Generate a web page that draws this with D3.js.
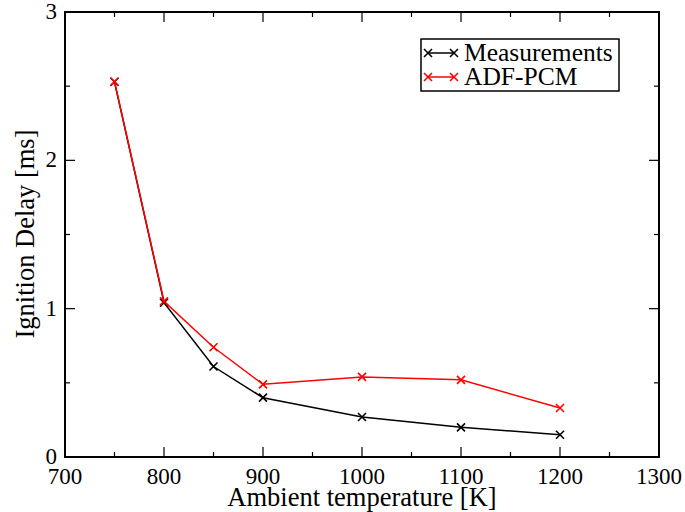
<!DOCTYPE html>
<html><head><meta charset="utf-8">
<script src="https://cdn.jsdelivr.net/npm/d3@7"></script>
<style>body{margin:0;background:#fff}svg{display:block}text{font-family:"Liberation Serif","Times New Roman",serif}</style>
</head><body>
<svg id="c" width="685" height="512"></svg>
<script>
const temps = [750, 800, 850, 900, 1000, 1100, 1200];
const measurements = [2.53, 1.04, 0.61, 0.40, 0.27, 0.20, 0.15];
const adfPcm = [2.53, 1.05, 0.74, 0.49, 0.54, 0.52, 0.33];
const xTicks = [700, 800, 900, 1000, 1100, 1200, 1300];
const yTicks = [0, 1, 2, 3];
const seriesNames = ["Measurements", "ADF-PCM"];
const seriesColors = ["#000000", "#ff0000"];

const svg = d3.select("#c");
const L = 65, R = 659, T = 12, B = 457;
const x = d3.scaleLinear().domain([700, 1300]).range([L, R]);
const y = d3.scaleLinear().domain([0, 3]).range([B, T]);

// frame
svg.append("rect").attr("x", L).attr("y", T).attr("width", R - L).attr("height", B - T)
  .attr("fill", "none").attr("stroke", "#000").attr("stroke-width", 2);

const xMinor = d3.range(750, 1300, 100);
const yMinor = [0.5, 1.5, 2.5];
const g = svg.append("g").attr("stroke", "#000").attr("stroke-width", 1.2);
xTicks.slice(1, -1).forEach(v => {
  g.append("line").attr("x1", x(v)).attr("x2", x(v)).attr("y1", B).attr("y2", B - 10);
  g.append("line").attr("x1", x(v)).attr("x2", x(v)).attr("y1", T).attr("y2", T + 10);
});
xMinor.forEach(v => {
  g.append("line").attr("x1", x(v)).attr("x2", x(v)).attr("y1", B).attr("y2", B - 5);
  g.append("line").attr("x1", x(v)).attr("x2", x(v)).attr("y1", T).attr("y2", T + 5);
});
yTicks.slice(1, -1).forEach(v => {
  g.append("line").attr("x1", L).attr("x2", L + 10).attr("y1", y(v)).attr("y2", y(v));
  g.append("line").attr("x1", R).attr("x2", R - 10).attr("y1", y(v)).attr("y2", y(v));
});
yMinor.forEach(v => {
  g.append("line").attr("x1", L).attr("x2", L + 5).attr("y1", y(v)).attr("y2", y(v));
  g.append("line").attr("x1", R).attr("x2", R - 5).attr("y1", y(v)).attr("y2", y(v));
});

// tick labels
svg.selectAll(".xl").data(xTicks).enter().append("text")
  .attr("x", d => x(d)).attr("y", 484).attr("text-anchor", "middle")
  .attr("font-size", 23).text(d => d);
svg.selectAll(".yl").data(yTicks).enter().append("text")
  .attr("x", 57).attr("y", d => y(d) + 7).attr("text-anchor", "end")
  .attr("font-size", 23).text(d => d);

// axis titles
svg.append("text").attr("x", 362).attr("y", 506).attr("text-anchor", "middle")
  .attr("font-size", 26.5).text("Ambient temperature [K]");
svg.append("text").attr("transform", `translate(34,234) rotate(-90)`)
  .attr("text-anchor", "middle").attr("font-size", 26.5).text("Ignition Delay [ms]");

// series
const allSeries = [measurements, adfPcm];
const line = d3.line().x(d => x(d[0])).y(d => y(d[1]));
function cross(sel, cx, cy, col) {
  const s = 4;
  sel.append("path").attr("d", `M${cx - s},${cy - s}L${cx + s},${cy + s}M${cx - s},${cy + s}L${cx + s},${cy - s}`)
    .attr("stroke", col).attr("stroke-width", 1.6).attr("fill", "none");
}
allSeries.forEach((vals, i) => {
  const pts = temps.map((t, j) => [t, vals[j]]);
  const sg = svg.append("g");
  sg.append("path").attr("d", line(pts)).attr("fill", "none")
    .attr("stroke", seriesColors[i]).attr("stroke-width", 1.5);
  pts.forEach(p => cross(sg, x(p[0]), y(p[1]), seriesColors[i]));
});

// legend
svg.append("rect").attr("x", 421).attr("y", 39).attr("width", 198).attr("height", 52)
  .attr("fill", "#fff").attr("stroke", "#000").attr("stroke-width", 1.5);
seriesNames.forEach((n, i) => {
  const ly = 53 + i * 24;
  svg.append("line").attr("x1", 428).attr("x2", 454).attr("y1", ly).attr("y2", ly)
    .attr("stroke", seriesColors[i]).attr("stroke-width", 1.5);
  cross(svg, 428, ly, seriesColors[i]);
  cross(svg, 454, ly, seriesColors[i]);
  svg.append("text").attr("x", 464).attr("y", ly + 8).attr("font-size", 25.5).text(n);
});
</script>
</body></html>
